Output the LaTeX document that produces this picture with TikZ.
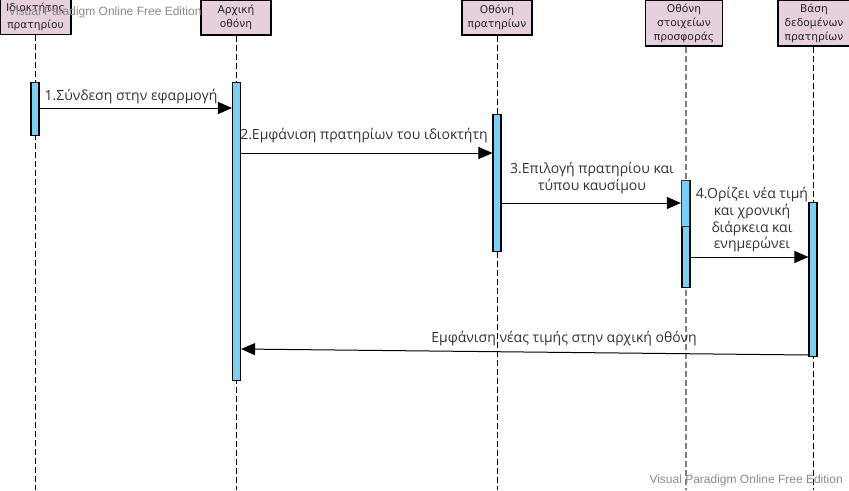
\documentclass[tikz,border=0pt]{standalone}
\usepackage{fontspec}
\setmainfont{Open Sans}
\newfontfamily\boxfont{DejaVu Sans}
\newfontfamily\wmfont{Liberation Sans}
\usetikzlibrary{arrows.meta,calc}
\definecolor{boxfill}{HTML}{E6D0DE}
\definecolor{actfill}{HTML}{7ACFF5}
\definecolor{wmgray}{HTML}{8A8A8A}
\tikzset{
  obj/.style={draw=black, fill=boxfill, line width=0.9pt, inner sep=0pt, align=center,
    font=\boxfont\fontsize{8}{10.5}\selectfont, text=black!85},
  lifeline/.style={draw=black, line width=0.6pt, dash pattern=on 4.5pt off 2.25pt},
  glifeline/.style={draw=gray, line width=1.4pt, dash pattern=on 4.5pt off 2.25pt},
  act/.style={draw=black, fill=actfill, line width=0.8pt, inner sep=0pt, minimum width=6pt},
  msg/.style={draw=black, line width=0.75pt, -{Triangle[length=10.5pt,width=9pt]}},
  lbl/.style={font=\fontsize{10.5}{12.5}\selectfont, text=black!80, align=center, inner sep=0pt},
  wm/.style={font=\wmfont\fontsize{9}{11}\selectfont, text=wmgray, inner sep=0pt}
}
\begin{document}
\begin{tikzpicture}[x=0.75pt,y=-0.75pt]
\useasboundingbox (0,0) rectangle (849,490);
% objects
\node[obj, minimum width=53.25pt, minimum height=26.25pt] (o1) at (35.5,17) {\raisebox{2pt}{Ιδιοκτήτης}\\πρατηρίου};
\node[obj, minimum width=52.5pt, minimum height=26.25pt] (o2) at (236,17.5) {Αρχική\\οθόνη};
\node[obj, minimum width=52.5pt, minimum height=26.25pt] (o3) at (497,17.5) {Οθόνη\\πρατηρίων};
\node[obj, minimum width=57.75pt, minimum height=34.5pt] (o4) at (684,23) {Οθόνη\\στοιχείων\\προσφοράς};
\node[obj, minimum width=54pt, minimum height=34.5pt] (o5) at (814,23) {Βάση\\δεδομένων\\πρατηρίων};
% lifeline ends
\coordinate (e1) at (35,490);
\coordinate (e2) at (236,490);
\coordinate (e3) at (497,490);
\coordinate (e4) at (686,490);
\coordinate (e5) at (813,490);
\draw[lifeline] (o1.south -| e1) -- (e1);
\draw[lifeline] (o2.south -| e2) -- (e2);
\draw[lifeline] (o3.south -| e3) -- (e3);
\draw[glifeline] (o4.south -| e4) -- (e4);
\draw[lifeline] (o5.south -| e5) -- (e5);
% activations
\node[act, anchor=north, minimum height=39.75pt] (a1) at (35,82) {};
\node[act, anchor=north, minimum height=223.5pt] (a2) at (236.5,82) {};
\node[act, anchor=north, minimum height=102.75pt] (a3) at (497,114) {};
\node[act, anchor=north, minimum height=80.25pt] (a4) at (686,180) {};
\node[act, anchor=north, minimum height=34.5pt, draw=black!80, line width=1pt] (a4b) at (685.5,180) {};
\node[act, anchor=north, minimum height=115.5pt] (a5) at (813,202) {};
% message levels
\coordinate (m1) at (0,108);
\coordinate (m2) at (0,153);
\coordinate (m3) at (0,203);
\coordinate (m4) at (0,257);
\coordinate (m5s) at (0,355);
\coordinate (m5e) at (0,349);
\draw[msg] (a1.east |- m1) -- (a2.west |- m1);
\draw[msg] (a2.east |- m2) -- (a3.west |- m2);
\draw[msg] (a3.east |- m3) -- (a4b.west |- m3);
\draw[msg] (a4.east |- m4) -- (a5.west |- m4);
\draw[msg] (a5.west |- m5s) -- (a2.east |- m5e);
% labels
\node[lbl] (l1) at (131,97) {1.Σύνδεση στην εφαρμογή};
\node[lbl] (l2) at (364,136) {2.Εμφάνιση πρατηρίων του ιδιοκτήτη};
\node[lbl] (l3) at (592,178) {3.Επιλογή πρατηρίου και\\τύπου καυσίμου};
\node[lbl] (l4) at (752,220) {4.Ορίζει νέα τιμή\\και χρονική\\διάρκεια και\\ενημερώνει};
\node[lbl] (l5) at (564,339) {Εμφάνιση νέας τιμής στην αρχική οθόνη};
% watermarks
\node[wm, anchor=west] (w1) at (8,12) {Visual Paradigm Online Free Edition};
\node[wm, anchor=east] (w2) at (843,480) {Visual Paradigm Online Free Edition};
\end{tikzpicture}
\end{document}
